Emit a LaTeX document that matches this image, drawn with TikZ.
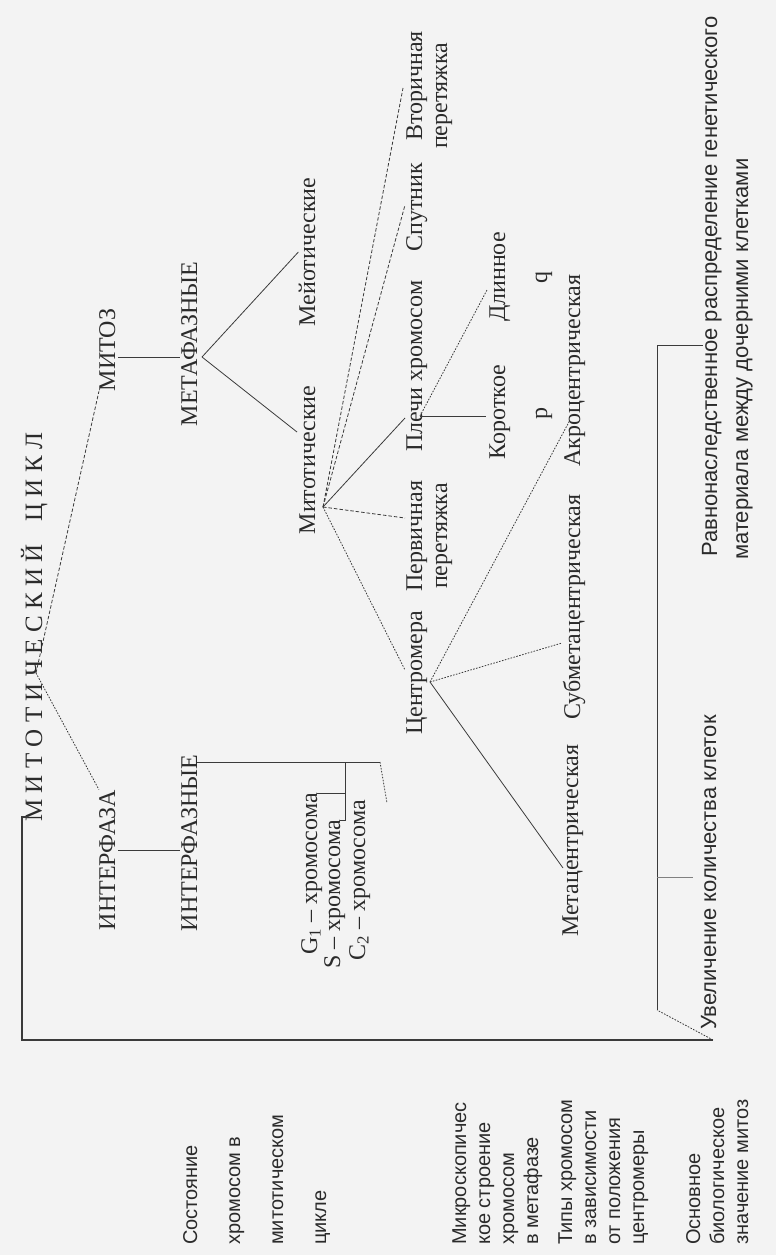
\documentclass[tikz,border=0pt]{standalone}
\usepackage{fontspec}
\setmainfont{Liberation Serif}
\newfontfamily\sansf{Liberation Sans}
\definecolor{ink}{HTML}{2B2B2B}
\definecolor{lin}{HTML}{3A3A3A}
\definecolor{paper}{HTML}{F3F3F3}
\begin{document}
\begin{tikzpicture}[x=1pt,y=-1pt,
  txt/.style={rotate=90, inner sep=0pt, text=ink, font=\fontsize{24}{25}\selectfont},
  captxt/.style={txt, font=\fontsize{24}{25}\selectfont},
  lbl/.style={txt, anchor=base west, font=\sansf\fontsize{20}{21}\selectfont},
  sns/.style={txt, anchor=base west, font=\sansf\fontsize{22}{23}\selectfont},
  ln/.style={draw=lin, line width=0.8pt},
  br/.style={draw=lin, line width=1.2pt},
  dsh/.style={ln, dash pattern=on 3.5pt off 2pt},
  dot/.style={ln, dash pattern=on 1.6pt off 1.4pt}]
\useasboundingbox[fill=paper] (0,0) rectangle (776,1255);

% ---- title
\node[txt, anchor=base west, font=\fontsize{25}{26}\selectfont] (title) at (42,822)
  {\makebox[389pt][s]{М\hfil И\hfil Т\hfil О\hfil Т\hfil И\hfil Ч\hfil Е\hfil С\hfil К\hfil И\hfil Й\hspace{16pt}\hfil Ц\hfil И\hfil К\hfil Л}};

% ---- main phases
\node[captxt, anchor=base] (mitoz) at (115,350) {МИТОЗ};
\node[captxt, anchor=base] (metaf) at (197,344) {МЕТАФАЗНЫЕ};
\node[captxt, anchor=base] (inter) at (115,860) {ИНТЕРФАЗА};
\node[captxt, anchor=base] (intn) at (197,843) {ИНТЕРФАЗНЫЕ};

\node[txt, anchor=base] (meio) at (315,252) {Мейотические};
\node[txt, anchor=base] (mito) at (315,460) {Митотические};

\node[txt, anchor=base east] (g1) at (317,793) {G\textsubscript{1} – хромосома};
\node[txt, anchor=base east] (s) at (340,820) {S – хромосома};
\node[txt, anchor=base east] (c2) at (365,800) {C\textsubscript{2} – хромосома};

\node[txt, anchor=base] (centr) at (422,673) {Центромера};
\node[txt, anchor=base] (perv1) at (422,536) {Первичная};
\node[txt, anchor=base] (perv2) at (447,536) {перетяжка};
\node[txt, anchor=base west] (plech) at (422,452) {Плечи хромосом};
\node[txt, anchor=base] (sput) at (422,207) {Спутник};
\node[txt, anchor=base] (vtor1) at (422,86) {Вторичная};
\node[txt, anchor=base] (vtor2) at (447,96) {перетяжка};

\node[txt, anchor=base] (korot) at (505,412) {Короткое};
\node[txt, anchor=base] (pp) at (547,413) {p};
\node[txt, anchor=base] (dlin) at (505,277) {Длинное};
\node[txt, anchor=base] (qq) at (547,277) {q};

\node[txt, anchor=base west] (metac) at (578,937) {Метацентрическая};
\node[txt, anchor=base west] (submc) at (580,720) {Субметацентрическая};
\node[txt, anchor=base west] (akroc) at (580,467) {Акроцентрическая};

\node[sns] (uvel) at (716,1030) {Увеличение количества клеток};
\node[sns] (ravn1) at (717,557) {Равнонаследственное распределение генетического};
\node[sns] (ravn2) at (748,560) {материала между дочерними клетками};

% ---- row labels
\node[lbl] (l11) at (197,1245) {Состояние};
\node[lbl] (l12) at (240,1245) {хромосом в};
\node[lbl] (l13) at (283,1245) {митотическом};
\node[lbl] (l14) at (326,1245) {цикле};
\node[lbl] (l21) at (466,1245) {Микроскопичес};
\node[lbl] (l22) at (490,1245) {кое строение};
\node[lbl] (l23) at (514,1245) {хромосом};
\node[lbl] (l24) at (538,1245) {в метафазе};
\node[lbl] (l31) at (572,1245) {Типы хромосом};
\node[lbl] (l32) at (596,1245) {в зависимости};
\node[lbl] (l33) at (620,1245) {от положения};
\node[lbl] (l34) at (644,1245) {центромеры};
\node[lbl] (l41) at (700,1245) {Основное};
\node[lbl] (l42) at (724,1245) {биологическое};
\node[lbl] (l43) at (748,1245) {значение митоз};

% ---- connector points
\coordinate (tc) at (36,673);
\coordinate (mzR) at (118,357);
\coordinate (mfL) at (180,357);
\coordinate (ifR) at (118,850);
\coordinate (inL) at (180,850);
\coordinate (mh) at (202,357);
\coordinate (mitoE) at (297,432);
\coordinate (hub) at (323,507);
\coordinate (centrE) at (405,670);
\coordinate (pervE) at (405,518);
\coordinate (plechE) at (405,418);
\coordinate (sputE) at (405,205);
\coordinate (vtorE) at (403,88);
\coordinate (pl) at (420,416);
\coordinate (korE) at (486,416);
\coordinate (dlE) at (487,290);
\coordinate (ch) at (430,682);
\coordinate (metE) at (563,868);
\coordinate (subE) at (562,643);
\coordinate (akrE) at (570,420);
\coordinate (ie) at (197,762);
\coordinate (ibr) at (380,762);
\coordinate (sbr) at (345,762);
\coordinate (sbot) at (345,820);
\coordinate (g1e) at (345,793);
\coordinate (c2e) at (387,803);
\coordinate (b0) at (28,817);
\coordinate (b1) at (22,817);
\coordinate (b2) at (22,1040);
\coordinate (b3) at (713,1040);
\coordinate (b4) at (657,1010);
\coordinate (b5) at (657,345);
\coordinate (b6) at (703,345);
\coordinate (tk0) at (657,877);
\coordinate (tk1) at (693,877);

% ---- connectors
\draw[dsh] (tc) -- (mitoz.north west);
\draw[dot] (tc) -- (inter.north east);
\draw[ln] (mzR) -- (mfL);
\draw[ln] (ifR) -- (inL);
\draw[ln] (mh) -- (meio.north);
\draw[ln] (mh) -- (mitoE);
\draw[dot] (hub) -- (centrE);
\draw[dsh] (hub) -- (pervE);
\draw[ln] (hub) -- (plechE);
\draw[dsh] (hub) -- (sputE);
\draw[dsh] (hub) -- (vtorE);
\draw[ln] (pl) -- (korE);
\draw[dot] (pl) -- (dlE);
\draw[ln] (ch) -- (metE);
\draw[dot] (ch) -- (subE);
\draw[dot] (ch) -- (akrE);
\draw[ln] (ie) -- (ibr);
\draw[ln] (sbr) -- (sbot) -- (s.base east);
\draw[ln] (g1.base east) -- (g1e);
\draw[dot] (ibr) -- (c2e);
\draw[br] (b0) -- (b1) -- (b2) -- (b3);
\draw[dot] (b3) -- (b4);
\draw[ln] (b4) -- (b5) -- (b6);
\draw[ln, draw=gray] (tk0) -- (tk1);
\end{tikzpicture}
\end{document}
